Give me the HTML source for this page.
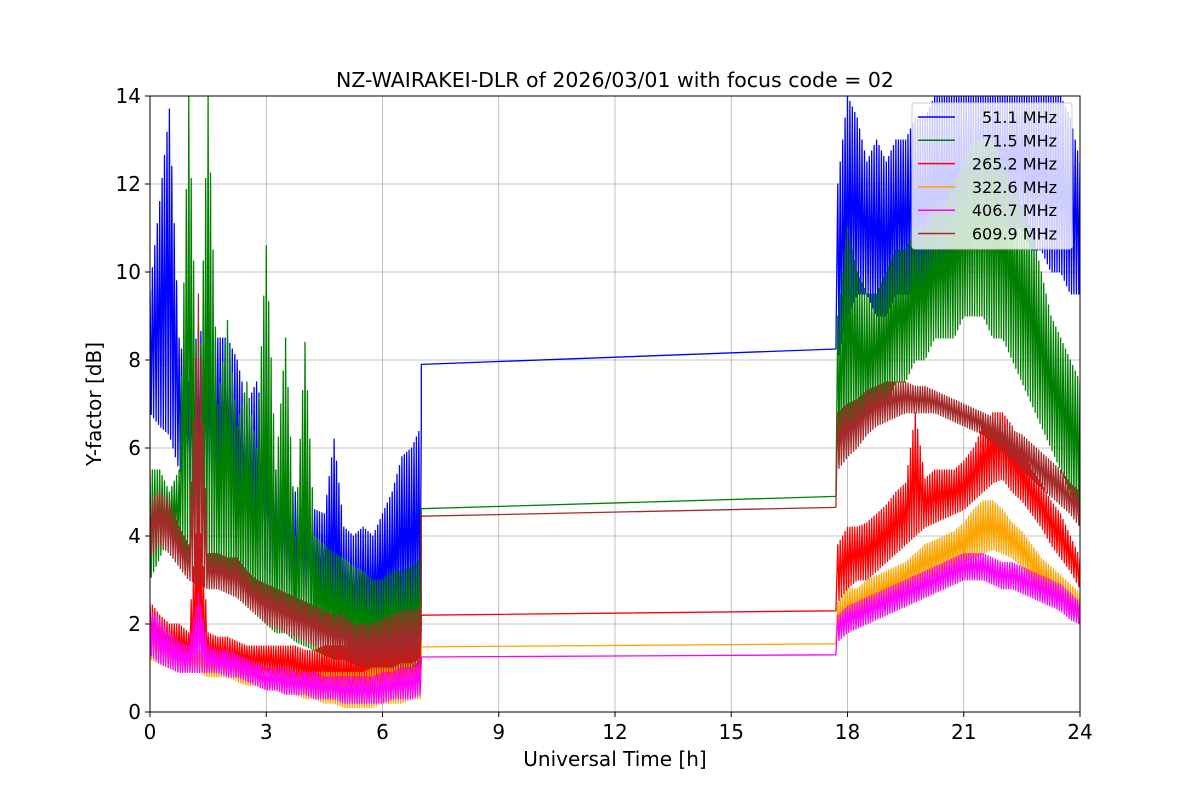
<!DOCTYPE html>
<html><head><meta charset="utf-8"><style>
body{margin:0;background:#fff;}
svg{display:block;font-family:"DejaVu Sans","Liberation Sans",sans-serif;}
</style></head><body>
<svg id="chart" width="1200" height="800" viewBox="0 0 1200 800"></svg>
<script>
const seriesNames=["51.1 MHz","71.5 MHz","265.2 MHz","322.6 MHz","406.7 MHz","609.9 MHz"];
const seriesColors=["blue","green","red","orange","magenta","#a52a2a"];
const xTicks=[0,3,6,9,12,15,18,21,24];
const yTicks=[0,2,4,6,8,10,12,14];
const nightStart=0, nightEnd=7, dayStart=17.75, dayEnd=24;
const blueNightLo=[6.8,6.5,6.3,5.5,5.2,5.0,5.2,5.0,5.0,4.5,4.0,3.5,3.2,3.0,2.8,2.5,2.5,2.3,2.2,2.0,1.8,1.5,1.6,1.8,2.0,2.0,2.2,2.0,2.2];
const blueNightHi=[9.6,11.6,13.7,8.5,7.5,8.8,8.2,8.5,8.5,8.0,7.0,7.5,6.5,5.5,5.3,5.0,4.8,4.6,4.5,6.2,4.2,4.0,4.2,4.0,4.5,5.0,5.8,6.0,6.5];
const blueGap=[7.9,8.25];
const blueDayLo=[8.0,9,9.5,9.5,9,9,9.5,9.5,9.5,9.5,10,10,10,10,10.5,10.5,11,11,11,11,10.5,10.5,10,10,9.5,9.5];
const blueDayHi=[12,14,13.5,12.5,13,12.5,13,13,13.5,13.5,14,14,14,14,14,14,14,14,14,14,14,14,14,14,13.5,12.5];
const greenNightLo=[3.0,3.5,4.0,3.8,3.5,3.5,3.3,3.2,3.0,2.8,2.5,2.3,2.0,1.8,1.8,1.6,1.5,1.4,1.3,1.2,1.2,1.1,1.1,1.0,1.0,1.2,1.0,1.0,1.2];
const greenNightHi=[5.5,5.5,5.0,5.5,14,6.5,14,7,8.9,6.5,7.5,6,10.6,5.5,8.5,4,8.4,4,3.8,3.6,3.5,3.3,3.2,3,3,3.2,3.2,3.3,3.5];
const greenGap=[4.62,4.9];
const greenDayLo=[5.5,6.5,6.5,6.5,7,7,7.5,7.5,8,8,8.5,8.5,8.5,9,9,9,8.5,8.5,8,7.5,7,6.5,6,5.5,5,4.5];
const greenDayHi=[9,11,10,9.5,9.5,10,10.5,10.5,11,11,11.5,11.5,12,12.5,13,13,13,12.5,12,11.5,11,10,9,8.5,8,7.5];
const redNightLo=[1.5,1.4,1.3,1.2,1.2,1.1,1.1,1.1,1.0,1.0,1.0,0.9,0.9,0.8,0.8,0.7,0.6,0.6,0.5,0.4,0.3,0.2,0.2,0.2,0.3,0.3,0.4,0.4,0.5];
const redNightHi=[2.5,2.2,2.0,2.0,1.8,4.8,1.8,1.7,1.7,1.6,1.5,1.5,1.5,1.5,1.5,1.5,1.4,1.4,1.5,1.5,1.5,1.6,1.6,1.6,1.7,1.7,1.8,1.8,2.0];
const redGap=[2.2,2.3];
const redDayLo=[2.5,2.8,3,3,3.2,3.4,3.6,3.8,4,4.2,4.3,4.4,4.5,4.6,4.8,5,5.2,5.3,5.0,4.8,4.5,4.2,3.8,3.5,3.2,2.8];
const redDayHi=[3.8,4.2,4.2,4.3,4.5,4.7,5,5.2,6.8,5.3,5.5,5.5,5.5,5.7,6,6.5,6.8,6.8,6.5,6,5.5,5.2,4.8,4.5,4,3.5];
const orangeNightLo=[1.2,1.1,1.0,0.9,0.9,0.9,0.8,0.8,0.8,0.7,0.6,0.6,0.5,0.5,0.4,0.4,0.3,0.3,0.2,0.2,0.1,0.1,0.1,0.1,0.2,0.2,0.2,0.3,0.3];
const orangeNightHi=[2.0,1.8,1.6,1.5,1.4,1.4,1.3,1.3,1.3,1.2,1.1,1.1,1.0,1.0,1.0,0.9,0.9,0.9,0.9,0.9,0.9,0.9,0.9,1.0,1.0,1.0,1.1,1.1,1.2];
const orangeGap=[1.48,1.55];
const orangeDayLo=[1.8,2.0,2.1,2.2,2.3,2.5,2.6,2.8,2.9,3.0,3.1,3.2,3.3,3.4,3.5,3.6,3.7,3.6,3.5,3.3,3.0,2.8,2.6,2.4,2.2,2.0];
const orangeDayHi=[2.5,2.8,2.8,3,3.1,3.2,3.3,3.4,3.6,3.8,3.9,4.0,4.1,4.3,4.6,4.8,4.8,4.6,4.3,4.1,3.8,3.5,3.3,3.1,2.9,2.7];
const magentaNightLo=[1.3,1.1,1.0,0.9,0.9,0.9,0.9,0.9,0.8,0.8,0.7,0.6,0.5,0.5,0.4,0.4,0.4,0.3,0.3,0.3,0.2,0.2,0.2,0.2,0.2,0.3,0.3,0.3,0.4];
const magentaNightHi=[2.3,2.1,1.8,1.6,1.5,2.7,1.5,1.4,1.4,1.3,1.2,1.1,1.0,1.0,1.0,0.9,0.9,0.9,0.8,0.8,0.8,0.8,0.8,0.8,0.9,0.9,1.0,1.0,1.2];
const magentaGap=[1.25,1.3];
const magentaDayLo=[1.6,1.8,1.9,2.0,2.1,2.2,2.3,2.4,2.5,2.6,2.7,2.8,2.9,3.0,3.0,3.0,2.9,2.8,2.8,2.7,2.6,2.5,2.4,2.3,2.1,2.0];
const magentaDayHi=[2.2,2.4,2.5,2.6,2.7,2.8,2.9,3.0,3.1,3.2,3.3,3.4,3.5,3.6,3.6,3.6,3.5,3.4,3.4,3.3,3.2,3.1,3.0,2.9,2.7,2.5];
const brownNightLo=[3.5,3.8,3.6,3.3,3.0,2.9,2.8,2.8,2.7,2.6,2.4,2.2,2.0,1.9,1.8,1.7,1.6,1.5,1.4,1.3,1.2,1.1,1.0,1.0,1.0,1.0,1.0,1.0,1.1];
const brownNightHi=[4.8,5.0,4.8,4.2,3.8,9.5,3.6,3.6,3.5,3.5,3.2,3.0,2.9,2.8,2.7,2.6,2.5,2.4,2.3,2.2,2.2,2.0,2.0,2.0,2.1,2.2,2.3,2.3,2.4];
const brownGap=[4.45,4.65];
const brownDayLo=[5.5,5.8,6.0,6.3,6.5,6.6,6.7,6.8,6.8,6.8,6.8,6.7,6.6,6.5,6.4,6.3,6.1,5.9,5.7,5.5,5.3,5.1,4.9,4.7,4.5,4.2];
const brownDayHi=[6.8,7.0,7.1,7.3,7.4,7.5,7.5,7.5,7.4,7.4,7.3,7.2,7.1,7.0,6.9,6.8,6.7,6.6,6.4,6.3,6.1,5.9,5.7,5.5,5.2,5.0];

const allSeries=[
 [blueNightLo,blueNightHi,blueGap,blueDayLo,blueDayHi],
 [greenNightLo,greenNightHi,greenGap,greenDayLo,greenDayHi],
 [redNightLo,redNightHi,redGap,redDayLo,redDayHi],
 [orangeNightLo,orangeNightHi,orangeGap,orangeDayLo,orangeDayHi],
 [magentaNightLo,magentaNightHi,magentaGap,magentaDayLo,magentaDayHi],
 [brownNightLo,brownNightHi,brownGap,brownDayLo,brownDayHi]];

const L=150,R=1080,T=96,B=712,xMax=24,yMax=14;
const X=v=>L+(v/xMax)*(R-L);
const Y=v=>B-(v/yMax)*(B-T);
const NS="http://www.w3.org/2000/svg";
const svg=document.getElementById('chart');
function mk(tag,attrs,parent){const e=document.createElementNS(NS,tag);for(const k in attrs)e.setAttribute(k,attrs[k]);(parent||svg).appendChild(e);return e;}

const defs=mk('defs',{});
const cp=mk('clipPath',{id:'plotclip'},defs);
mk('rect',{x:L,y:T,width:R-L,height:B-T},cp);

const grid=mk('g',{});


xTicks.forEach(t=>mk('line',{x1:X(t),x2:X(t),y1:T,y2:B,stroke:'#b0b0b0','stroke-width':0.8},grid));
yTicks.forEach(t=>mk('line',{x1:L,x2:R,y1:Y(t),y2:Y(t),stroke:'#b0b0b0','stroke-width':0.8},grid));

const plot=mk('g',{'clip-path':'url(#plotclip)'});


const sub=8;
function zig(lo,hi,t0,t1,pts){
  const n=lo.length, step=(t1-t0)/(n-1);
  for(let i=0;i<n-1;i++){
    for(let j=0;j<sub;j++){
      const f=j/sub;
      const t=t0+(i+f)*step;
      const l=lo[i]+(lo[i+1]-lo[i])*f;
      const h=hi[i]+(hi[i+1]-hi[i])*f;
      const v=(j%2===0)?h:l;
      pts.push(X(t).toFixed(1)+','+Y(v).toFixed(1));
    }
  }
  pts.push(X(t1).toFixed(1)+','+Y(hi[n-1]).toFixed(1));
}
allSeries.forEach((s,k)=>{
  const [nLo,nHi,gap,dLo,dHi]=s;
  const pts=[];
  zig(nLo,nHi,nightStart,nightEnd,pts);
  pts.push(X(7).toFixed(1)+','+Y(gap[0]).toFixed(1));
  pts.push(X(17.7).toFixed(1)+','+Y(gap[1]).toFixed(1));
  zig(dLo,dHi,dayStart,dayEnd,pts);
  const pl=mk('polyline',{points:pts.join(' '),fill:'none',stroke:seriesColors[k],'stroke-width':1.3,'stroke-linejoin':'round'},plot);
  
  
});

const frame=mk('rect',{x:L,y:T,width:R-L,height:B-T,fill:'none',stroke:'#000','stroke-width':1});



const xa=mk('g',{});


xTicks.forEach(t=>{
  mk('line',{x1:X(t),x2:X(t),y1:B,y2:B+5,stroke:'#000'},xa);
  const tx=mk('text',{x:X(t),y:B+27,'text-anchor':'middle','font-size':20},xa);
  tx.textContent=t;
  
  
});
const ya=mk('g',{});


yTicks.forEach(t=>{
  mk('line',{x1:L-5,x2:L,y1:Y(t),y2:Y(t),stroke:'#000'},ya);
  const tx=mk('text',{x:L-9,y:Y(t)+7,'text-anchor':'end','font-size':20},ya);
  tx.textContent=t;
  
  
});
const xt=mk('text',{x:615,y:766,'text-anchor':'middle','font-size':20});
xt.textContent='Universal Time [h]';


const yt=mk('text',{x:101,y:404,'text-anchor':'middle','font-size':20,transform:'rotate(-90 101 404)'});
yt.textContent='Y-factor [dB]';


const ti=mk('text',{x:615,y:87,'text-anchor':'middle','font-size':20.5});
ti.textContent='NZ-WAIRAKEI-DLR of 2026/03/01 with focus code = 02';



const lg=mk('g',{});


mk('rect',{x:912,y:103,width:160,height:146,rx:3,fill:'rgba(255,255,255,0.8)',stroke:'#ccc'},lg);
seriesNames.forEach((n,k)=>{
  const y=117+k*23.3;
  const ln=mk('line',{x1:918,x2:955,y1:y,y2:y,stroke:seriesColors[k],'stroke-width':1.5},lg);
  
  
  const tx=mk('text',{x:1057,y:y+6,'text-anchor':'end','font-size':16},lg);
  tx.textContent=n;
  
  
});
</script>
</body></html>
